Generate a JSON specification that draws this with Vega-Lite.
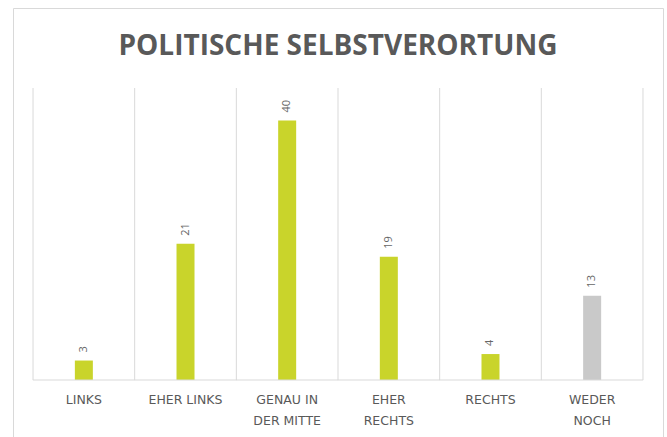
{
  "$schema": "https://vega.github.io/schema/vega-lite/v6.json",
  "width": 650,
  "height": 440,
  "autosize": {"type": "none"},
  "padding": {"left": 13, "top": 8, "right": 4, "bottom": 0},
  "background": "#ffffff",
  "title": {
    "text": "POLITISCHE SELBSTVERORTUNG",
    "font": "Open Sans",
    "fontSize": 28,
    "fontWeight": "bold",
    "color": "#595959",
    "anchor": "middle",
    "offset": -53
  },
  "config": {
    "view": {"stroke": "#d9d9d9", "strokeWidth": 1},
    "font": "Open Sans",
    "axisX": {
      "title": null,
      "offset": -68,
      "domain": false,
      "ticks": false,
      "grid": false,
      "labelAngle": 0,
      "labelPadding": 13,
      "labelFont": "DejaVu Sans",
      "labelFontSize": 12.5,
      "labelColor": "#595959",
      "labelLineHeight": 21
    }
  },
  "data": {
    "values": [
      {"kategorie": "LINKS", "wert": 3, "gruppe": "a", "last": false},
      {"kategorie": "EHER LINKS", "wert": 21, "gruppe": "a", "last": false},
      {"kategorie": "GENAU IN|DER MITTE", "wert": 40, "gruppe": "a", "last": false},
      {"kategorie": "EHER|RECHTS", "wert": 19, "gruppe": "a", "last": false},
      {"kategorie": "RECHTS", "wert": 4, "gruppe": "a", "last": false},
      {"kategorie": "WEDER|NOCH", "wert": 13, "gruppe": "b", "last": true}
    ]
  },
  "layer": [
    {
      "mark": {"type": "bar", "size": 18},
      "encoding": {
        "x": {
          "field": "kategorie",
          "type": "nominal",
          "sort": null,
          "scale": {"paddingInner": 0, "paddingOuter": 0.197},
          "axis": {"labelExpr": "split(datum.label, '|')"}
        },
        "y": {
          "field": "wert",
          "type": "quantitative",
          "scale": {"domain": [-10.479, 57.329], "nice": false, "zero": false},
          "axis": null
        },
        "y2": {"datum": 0},
        "color": {
          "field": "gruppe",
          "type": "nominal",
          "scale": {"domain": ["a", "b"], "range": ["#c9d42b", "#c9c9c9"]},
          "legend": null
        }
      }
    },
    {
      "mark": {"type": "rule", "color": "#d9d9d9", "strokeWidth": 1},
      "encoding": {
        "x": {"field": "kategorie", "type": "nominal", "sort": null, "bandPosition": 0, "axis": {"labelExpr": "split(datum.label, '|')"}},
        "y": {"datum": 45, "type": "quantitative", "axis": null},
        "y2": {"datum": 0}
      }
    },
    {
      "transform": [{"filter": "datum.last"}],
      "mark": {"type": "rule", "color": "#d9d9d9", "strokeWidth": 1},
      "encoding": {
        "x": {"field": "kategorie", "type": "nominal", "sort": null, "bandPosition": 1, "axis": {"labelExpr": "split(datum.label, '|')"}},
        "y": {"datum": 45, "type": "quantitative", "axis": null},
        "y2": {"datum": 0}
      }
    },
    {
      "mark": {"type": "tick", "orient": "horizontal", "size": 102, "thickness": 1, "color": "#d9d9d9", "opacity": 1},
      "encoding": {
        "x": {"field": "kategorie", "type": "nominal", "sort": null, "axis": {"labelExpr": "split(datum.label, '|')"}},
        "y": {"datum": 0, "type": "quantitative", "axis": null}
      }
    },
    {
      "mark": {"type": "text", "angle": 270, "align": "left", "baseline": "middle", "dx": 8, "font": "Open Sans", "fontSize": 11, "color": "#666666"},
      "encoding": {
        "x": {"field": "kategorie", "type": "nominal", "sort": null, "axis": {"labelExpr": "split(datum.label, '|')"}},
        "y": {"field": "wert", "type": "quantitative", "axis": null},
        "text": {"field": "wert", "type": "quantitative"}
      }
    }
  ]
}
